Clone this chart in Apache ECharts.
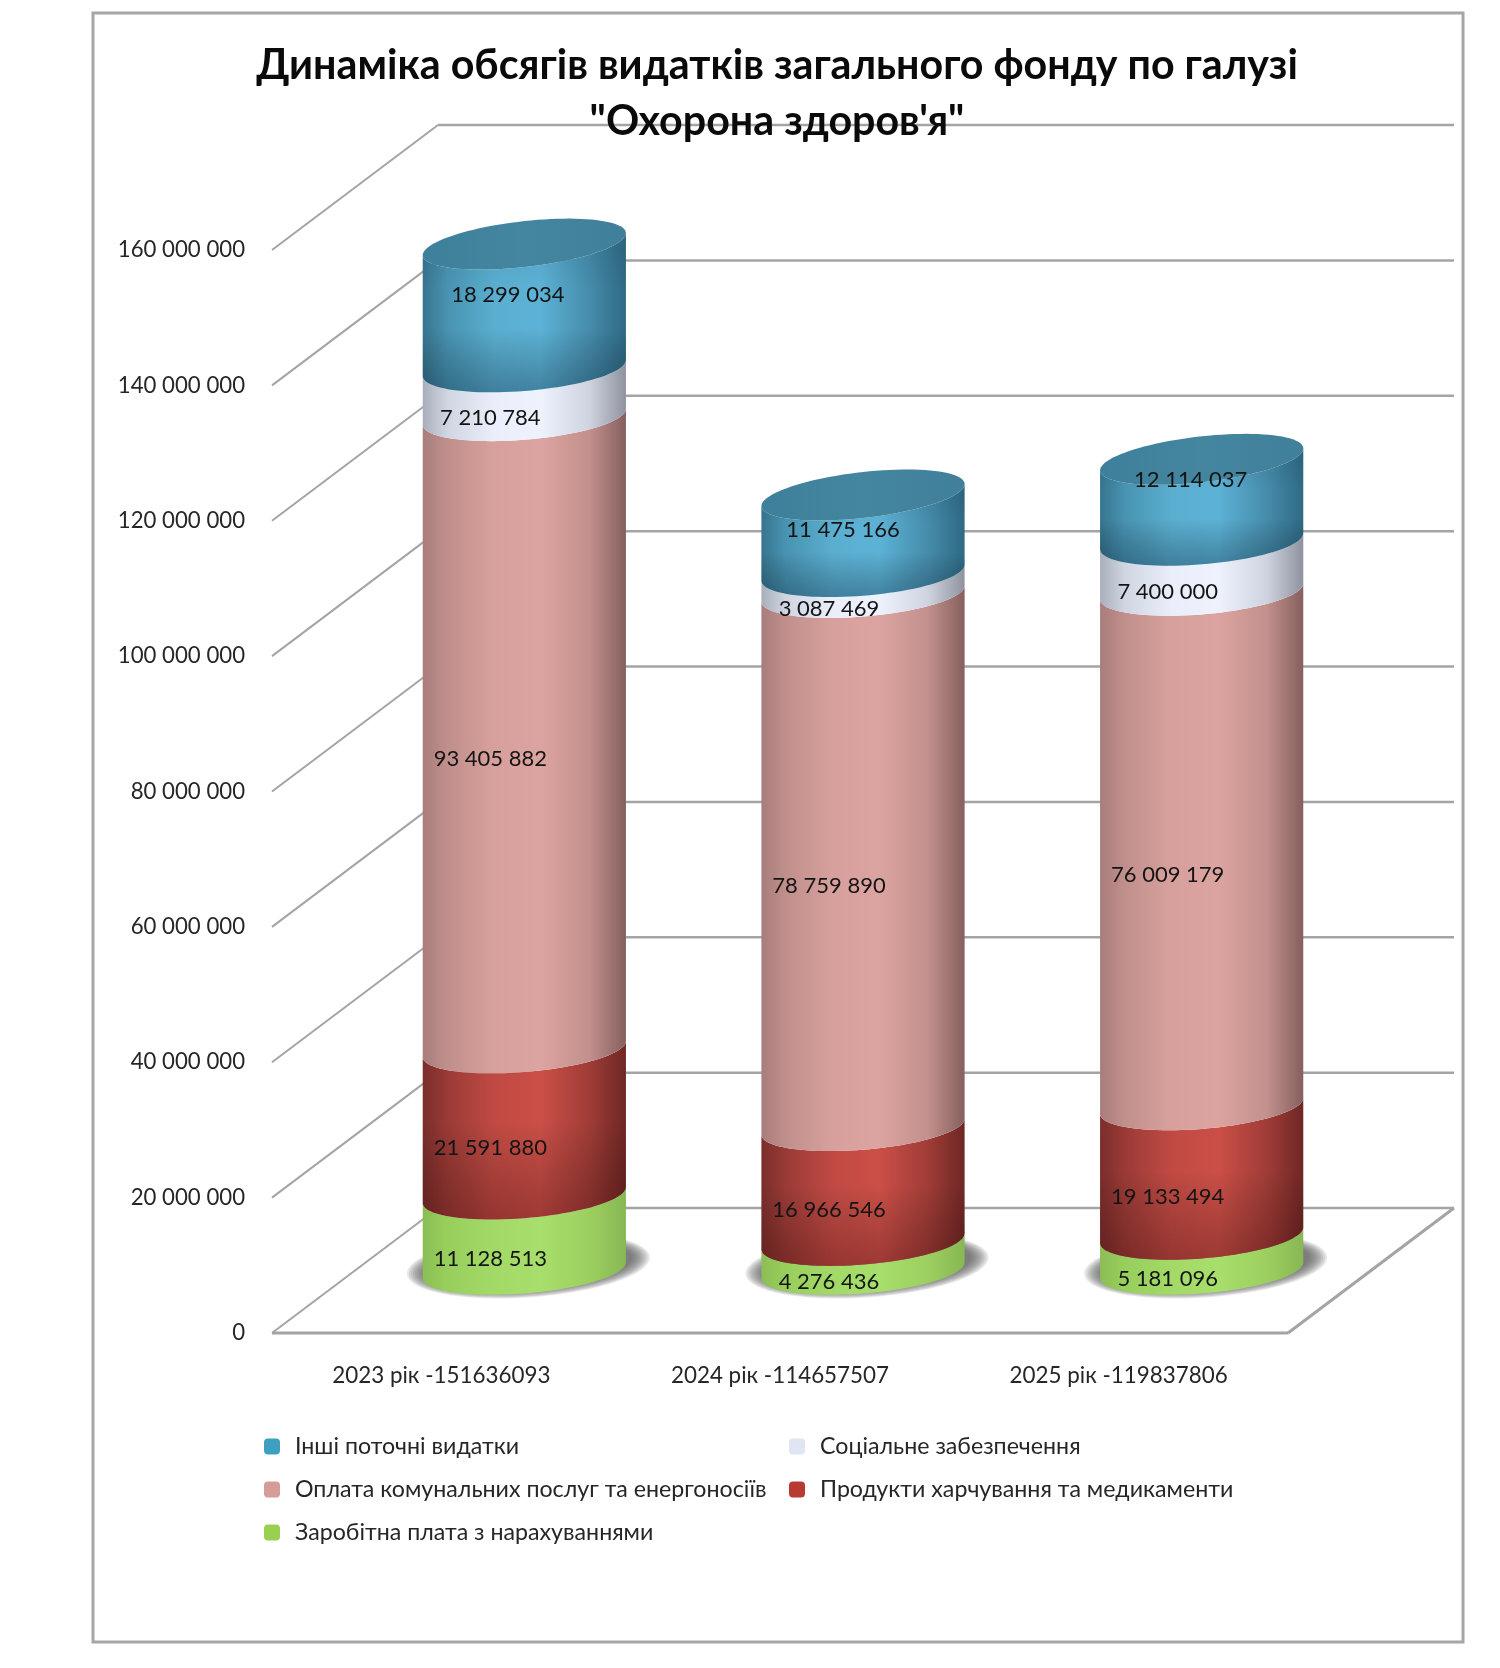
<!DOCTYPE html>
<html><head><meta charset="utf-8">
<style>html,body{margin:0;padding:0;background:#fff}#c{width:1500px;height:1668px}</style>
<script src="https://cdn.jsdelivr.net/npm/echarts@6/dist/echarts.min.js"></script>
</head><body><div id="c"></div>
<script>
const categories = ['2023 рік -151636093', '2024 рік -114657507', '2025 рік -119837806'];
const zarplata = [11128513, 4276436, 5181096];
const produkty = [21591880, 16966546, 19133494];
const komunalni = [93405882, 78759890, 76009179];
const sotsialne = [7210784, 3087469, 7400000];
const inshi = [18299034, 11475166, 12114037];
const yTicks = [0, 20000000, 40000000, 60000000, 80000000, 100000000, 120000000, 140000000, 160000000];

const FONT = 'Lato, Carlito, "Open Sans", sans-serif';
const DEPTH_X = 166, DEPTH_Y = -125, SHEAR = 8, CAP_SHEAR = 11, RY = 23;
const LINE = '#a4a4a4';

function hStops(c) { return { type: 'linear', x: 0, y: 0, x2: 1, y2: 0, colorStops: c.map((k, i) => ({ offset: [0, .12, .35, .58, .82, 1][i], color: k })) }; }
function vStops(c) { return { type: 'linear', x: 0, y: 0, x2: 0, y2: 1, colorStops: c.map(([o, k]) => ({ offset: o, color: k })) }; }

const seriesDefs = [
  { name: 'Заробітна плата з нарахуваннями', values: zarplata, color: '#9bd04f',
    side: ['#8bbd55', '#98cf5c', '#a3d967', '#a8de6b', '#9ccf5f', '#88b754'], over: [[0, 'rgba(0,0,0,0)'], [1, 'rgba(0,0,0,0)']] },
  { name: 'Продукти харчування та медикаменти', values: produkty, color: '#b83a33',
    side: ['#7a2e2b', '#9a3a36', '#c04a43', '#cb4f47', '#a03c37', '#6e2724'], over: [[0, 'rgba(0,0,0,0)'], [.45, 'rgba(0,0,0,0)'], [1, 'rgba(40,0,0,.28)']] },
  { name: 'Оплата комунальних послуг та енергоносіїв', values: komunalni, color: '#d59c98',
    side: ['#a87d7b', '#c08f8c', '#d7a09c', '#dca4a0', '#c2908d', '#85605e'], over: [[0, 'rgba(0,0,0,0)'], [1, 'rgba(0,0,0,0)']] },
  { name: 'Соціальне забезпечення', values: sotsialne, color: '#dfe5f2',
    side: ['#a9aebb', '#d0d5e2', '#e9eefa', '#eef2fd', '#cfd3e0', '#8f93a0'], over: [[0, 'rgba(0,0,0,0)'], [1, 'rgba(0,0,0,0)']] },
  { name: 'Інші поточні видатки', values: inshi, color: '#3f9fc0', top: true,
    side: ['#37758f', '#4893b1', '#5aaed0', '#5cb2d6', '#468cab', '#2f6a84'], over: [[0, 'rgba(0,20,40,.10)'], [.35, 'rgba(0,0,0,0)'], [.6, 'rgba(0,0,0,0)'], [1, 'rgba(0,20,40,.30)']] }
];
const labelNudge = [[-34, 26], [-34, 26], [-34, 26], [-34, 26], null];
const topNudge = [[-16.5, -11], [-20, -4], [-11, -20]];
const shadowLayers = [20, 18, 16, 14, 12, 10, 8, 6, 4, 2];

function spaced(v) { return String(v).replace(/\B(?=(\d{3})+(?!\d))/g, ' '); }

function ellipseArc(cx, cy, rx, ry, from, to, n, shear) {
  const pts = [];
  for (let i = 0; i <= n; i++) {
    const a = from + (to - from) * i / n;
    pts.push([cx + rx * Math.cos(a), cy - shear * Math.cos(a) + ry * Math.sin(a)]);
  }
  return pts;
}

function cylinderSeries(def, idx) {
  const data = categories.map((_, i) => {
    let s = 0;
    for (let k = 0; k < idx; k++) s += seriesDefs[k].values[i];
    return [i, s, s + def.values[i]];
  });
  return {
    name: def.name, type: 'custom', coordinateSystem: 'cartesian2d', z: 5, silent: true,
    itemStyle: { color: def.color },
    encode: { x: 0, y: [1, 2] }, data,
    renderItem(params, api) {
      const i = api.value(0), v0 = api.value(1), v1 = api.value(2);
      const rx = api.size([1, 0])[0] * 0.3;
      const p0 = api.coord([i, v0]), p1 = api.coord([i, v1]);
      const cx = p0[0] + DEPTH_X / 2, y0 = p0[1] + DEPTH_Y / 2, y1 = p1[1] + DEPTH_Y / 2;
      const lower = ellipseArc(cx, y0, rx, RY, Math.PI, 0, 48, SHEAR);
      const upper = ellipseArc(cx, y1, rx, RY, 0, Math.PI, 48, def.top ? CAP_SHEAR : SHEAR);
      const body = lower.concat(upper);
      const kids = [];
      if (idx === 0) {
        shadowLayers.forEach(grow => {
          const sh = ellipseArc(cx + 4, y0 - 5, rx + grow, RY + grow * 0.45, 0, Math.PI * 2, 72, SHEAR);
          kids.push({ type: 'polygon', shape: { points: sh }, style: { fill: 'rgba(85,85,85,.13)' } });
        });
      }
      kids.push({ type: 'polygon', shape: { points: body }, style: { fill: hStops(def.side) } });
      kids.push({ type: 'polygon', shape: { points: body }, style: { fill: vStops(def.over) } });
      if (def.top) {
        const cap = ellipseArc(cx, y1, rx, RY, 0, Math.PI * 2, 96, CAP_SHEAR);
        kids.push({ type: 'polygon', shape: { points: cap }, style: { fill: { type: 'linear', x: 0, y: 0, x2: 1, y2: 0, colorStops: [{ offset: 0, color: '#3e7f9b' }, { offset: .5, color: '#44869f' }, { offset: 1, color: '#417f9a' }] } } });
      }
      const nudge = def.top ? topNudge[i] : labelNudge[idx];
      kids.push({ type: 'text', style: {
        text: spaced(def.values[i]), x: cx + nudge[0], y: (y0 + y1) / 2 + nudge[1],
        align: 'center', verticalAlign: 'middle', fill: '#141414', font: '22px ' + FONT } });
      return { type: 'group', children: kids };
    }
  };
}

const wallSeries = {
  type: 'custom', coordinateSystem: 'cartesian2d', z: 1, silent: true,
  encode: { x: 0, y: 1 }, data: yTicks.map(v => [0, v]),
  renderItem(params, api) {
    const v = api.value(1), cs = params.coordSys, y = api.coord([0, v])[1];
    const L = cs.x, R = cs.x + cs.width;
    const ln = (a, b, c, d, w) => ({ type: 'line', shape: { x1: a, y1: b, x2: c, y2: d }, style: { stroke: LINE, lineWidth: w } });
    const kids = [
      ln(L, y, L + DEPTH_X, y + DEPTH_Y, 2),
      ln(L + DEPTH_X, y + DEPTH_Y, R + DEPTH_X, y + DEPTH_Y, 2.5)
    ];
    if (v === 0) {
      kids.push(ln(L, y, R, y, 3));
      kids.push(ln(R, y, R + DEPTH_X, y + DEPTH_Y, 3));
    }
    return { type: 'group', children: kids };
  }
};

const legendText = { fontFamily: FONT, fontSize: 23.2, color: '#262626', padding: [0, 0, 0, 10] };
const option = {
  animation: false,
  backgroundColor: '#ffffff',
  title: {
    text: 'Динаміка обсягів видатків загального фонду по галузі\n"Охорона здоров\'я"',
    left: 772, top: 33, textAlign: 'center',
    textStyle: { fontFamily: FONT, fontWeight: 'bold', fontSize: 41.2, lineHeight: 56, color: '#0a0a0a' }
  },
  grid: { left: 272, top: 250, width: 1016, height: 1083 },
  xAxis: {
    type: 'category', data: categories, boundaryGap: true,
    axisLine: { show: false }, axisTick: { show: false }, splitLine: { show: false },
    axisLabel: { margin: 32, fontFamily: FONT, fontSize: 22.4, color: '#262626', interval: 0 }
  },
  yAxis: {
    type: 'value', min: 0, max: 160000000, interval: 20000000,
    axisLine: { show: false }, axisTick: { show: false }, splitLine: { show: false },
    axisLabel: { margin: 27, fontFamily: FONT, fontSize: 22.2, color: '#262626', formatter: spaced }
  },
  legend: [
    { left: 259, top: 1430, orient: 'vertical', itemWidth: 16, itemHeight: 16, itemGap: 20, selectedMode: false,
      data: ['Інші поточні видатки', 'Оплата комунальних послуг та енергоносіїв', 'Заробітна плата з нарахуваннями'], textStyle: legendText },
    { left: 784, top: 1430, orient: 'vertical', itemWidth: 16, itemHeight: 16, itemGap: 20, selectedMode: false,
      data: ['Соціальне забезпечення', 'Продукти харчування та медикаменти'], textStyle: legendText }
  ],
  graphic: [
    { type: 'rect', z: -1, shape: { x: 93, y: 13, width: 1370, height: 1629 }, style: { fill: '#fff', stroke: '#a6a6a6', lineWidth: 3 } }
  ],
  series: [wallSeries].concat(seriesDefs.map(cylinderSeries))
};
echarts.init(document.getElementById('c'), null, { renderer: 'canvas' }).setOption(option);
</script></body></html>
